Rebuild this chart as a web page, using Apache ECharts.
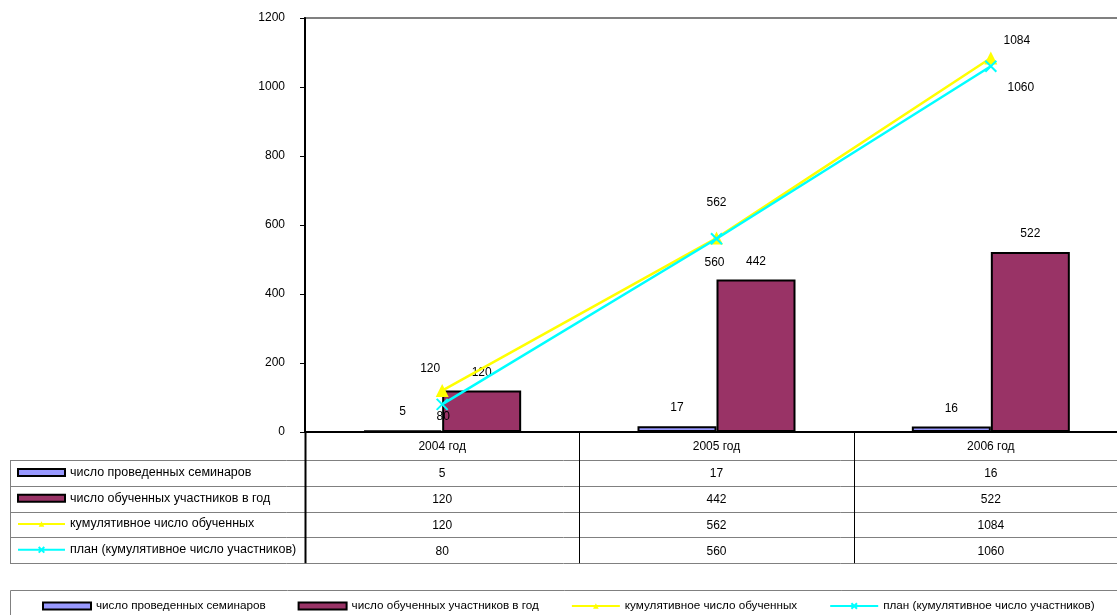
<!DOCTYPE html>
<html>
<head>
<meta charset="utf-8">
<script src="https://cdn.jsdelivr.net/npm/echarts@6/dist/echarts.min.js"></script>
<style>
  html, body { margin: 0; padding: 0; background: #fff; }
  #chart { width: 1117px; height: 615px; }
</style>
</head>
<body>
<div id="chart"></div>
<script>
// Seminar programme: yearly figures and cumulative totals
const years = ['2004 год', '2005 год', '2006 год'];
const seminars = [5, 17, 16];
const participants = [120, 442, 522];
const cumulative = [120, 562, 1084];
const plan = [80, 560, 1060];
const seriesNames = [
  'число проведенных семинаров',
  'число обученных участников в год',
  'кумулятивное число обученных',
  'план (кумулятивное число участников)'
];
const tableRows = [seminars, participants, cumulative, plan];

const FONT = "'Liberation Sans', Arial, sans-serif";

// Label placement around the line markers (pixel offsets from each point)
const cumLabelOffsets = [[-12, -22], [0, -35], [26, -17]];
const planLabelOffsets = [[1, 12], [-2, 24], [30, 21]];

function withLabels(values, offsets) {
  return values.map((v, i) => ({
    value: v,
    label: { offset: offsets[i] }
  }));
}

// plot area runs slightly past the right edge of the canvas
const GRID = { left: 305, top: 18, width: 823, height: 414 };
const TABLE_TOP = 460, ROW_H = 25.8, TABLE_LEFT = 10;

const chart = echarts.init(document.getElementById('chart'), null, { renderer: 'canvas' });

const tableLegends = seriesNames.map((name, i) => ({
  data: [{ name: name, icon: i < 2 ? 'rect' : undefined }],
  orient: 'horizontal',
  left: 17,
  top: TABLE_TOP + ROW_H * i + ROW_H / 2 - 7,
  itemWidth: 47,
  itemHeight: 7,
  itemGap: 0,
  textStyle: { fontFamily: FONT, fontSize: 12.5, color: '#000' },
  padding: 0,
  selectedMode: false
}));

const bottomLegend = {
  data: seriesNames.map((name, i) => ({ name: name, icon: i < 2 ? 'rect' : undefined })),
  orient: 'horizontal',
  left: 42,
  top: 600,
  itemWidth: 48,
  itemHeight: 7,
  itemGap: 32,
  textStyle: { fontFamily: FONT, fontSize: 11.7, color: '#000' },
  padding: 0,
  selectedMode: false
};

const barBorder = { borderColor: '#000', borderWidth: 2 };

chart.setOption({
  animation: false,
  backgroundColor: '#fff',
  textStyle: { fontFamily: FONT },
  grid: Object.assign({
    show: true, borderColor: '#808080', borderWidth: 2, backgroundColor: 'transparent',
    containLabel: false, outerBoundsMode: 'none'
  }, GRID),
  legend: [bottomLegend].concat(tableLegends),
  xAxis: {
    type: 'category',
    data: years,
    axisLine: { lineStyle: { color: '#000', width: 2 } },
    axisTick: { show: false },
    axisLabel: { color: '#000', fontSize: 12, fontFamily: FONT, margin: 9 },
    splitLine: { show: false }
  },
  yAxis: {
    type: 'value',
    min: 0,
    max: 1200,
    interval: 200,
    axisLine: { show: true, lineStyle: { color: '#000', width: 2 } },
    axisTick: { show: true, length: 5, lineStyle: { color: '#000' } },
    axisLabel: { color: '#000', fontSize: 12, fontFamily: FONT, margin: 20, formatter: v => String(v) },
    splitLine: { show: false }
  },
  series: [
    {
      name: seriesNames[0],
      type: 'bar',
      data: seminars,
      barWidth: 79,
      barGap: '0%',
      itemStyle: Object.assign({ color: '#9999FF' }, barBorder),
      label: { show: true, position: 'top', distance: 12, color: '#000', fontSize: 12, fontFamily: FONT }
    },
    {
      name: seriesNames[1],
      type: 'bar',
      data: participants,
      barWidth: 79,
      barGap: '0%',
      itemStyle: Object.assign({ color: '#993366' }, barBorder),
      label: { show: true, position: 'top', distance: 12, color: '#000', fontSize: 12, fontFamily: FONT }
    },
    {
      name: seriesNames[2],
      type: 'line',
      data: withLabels(cumulative, cumLabelOffsets),
      symbol: 'triangle',
      symbolSize: 13,
      showAllSymbol: true,
      lineStyle: { color: '#FFFF00', width: 2.5 },
      itemStyle: { color: '#FFFF00' },
      label: { show: true, position: 'inside', color: '#000', fontSize: 12, fontFamily: FONT },
      z: 3
    },
    {
      name: seriesNames[3],
      type: 'line',
      data: withLabels(plan, planLabelOffsets),
      symbol: 'path://M0,0L10,10M10,0L0,10',
      symbolSize: 11,
      showAllSymbol: true,
      lineStyle: { color: '#00FFFF', width: 2.5 },
      itemStyle: { color: '#00FFFF', borderColor: '#00FFFF', borderWidth: 2 },
      label: { show: true, position: 'inside', color: '#000', fontSize: 12, fontFamily: FONT },
      z: 4
    }
  ]
});

// Data table under the plot, positioned from the category axis
const centers = years.map((_, i) => chart.convertToPixel({ xAxisIndex: 0 }, i));
const catW = centers[1] - centers[0];
const bounds = [centers[0] - catW / 2];
years.forEach((_, i) => bounds.push(centers[i] + catW / 2));
const xAxisY = chart.convertToPixel({ yAxisIndex: 0 }, 0);
const tableBottom = TABLE_TOP + ROW_H * tableRows.length;

const g = [];
// horizontal rules
for (let r = 0; r <= tableRows.length; r++) {
  const y = Math.round(TABLE_TOP + ROW_H * r) + 0.5;
  g.push({ type: 'line', shape: { x1: TABLE_LEFT, y1: y, x2: 1117, y2: y },
           style: { stroke: '#808080', lineWidth: 1 }, z: 10 });
}
// left border
g.push({ type: 'line', shape: { x1: TABLE_LEFT + 0.5, y1: TABLE_TOP, x2: TABLE_LEFT + 0.5, y2: tableBottom },
         style: { stroke: '#808080', lineWidth: 1 }, z: 10 });
// column separators
bounds.forEach((x, i) => {
  g.push({ type: 'line', shape: { x1: Math.round(x) + 0.5, y1: xAxisY, x2: Math.round(x) + 0.5, y2: tableBottom },
           style: { stroke: '#000', lineWidth: i === 0 ? 2 : 1 }, z: 10 });
});
// cell values
tableRows.forEach((row, r) => {
  row.forEach((v, c) => {
    g.push({ type: 'text', x: centers[c], y: TABLE_TOP + ROW_H * r + ROW_H / 2 + 1,
             style: { text: String(v), fill: '#000', font: '12px ' + FONT, align: 'center', verticalAlign: 'middle' }, z: 10 });
  });
});
// frame around the bottom legend
g.push({ type: 'rect', shape: { x: TABLE_LEFT + 0.5, y: 590.5, width: 1200, height: 60 },
         style: { fill: 'none', stroke: '#808080', lineWidth: 1 }, z: 1 });

chart.setOption({ graphic: g });
</script>
</body>
</html>
